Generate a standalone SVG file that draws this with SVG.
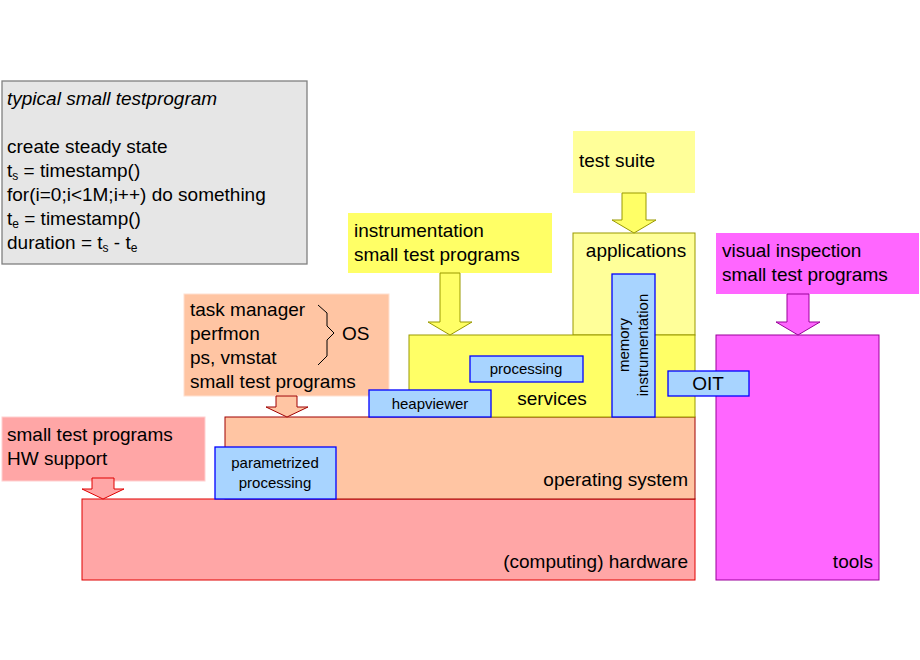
<svg xmlns="http://www.w3.org/2000/svg" width="920" height="660" viewBox="0 0 920 660">
<style>
text{font-family:"Liberation Sans",Arial,sans-serif;font-size:19px;fill:#000}
.s{font-size:15px}
.blue{fill:#a8d4ff;stroke:#0000ff;stroke-width:1.3}
</style>
<rect width="920" height="660" fill="#fff"/>
<g id="note">
<rect x="2" y="81" width="305" height="183" fill="#e6e6e6" stroke="#808080" stroke-width="1.3"/>
<text x="7" y="105" font-style="italic">typical small testprogram</text>
<text x="7" y="153">create steady state</text>
<text x="7" y="177">t<tspan font-size="12" dy="3">s</tspan><tspan dy="-3"> = timestamp()</tspan></text>
<text x="7" y="201">for(i=0;i&lt;1M;i++) do something</text>
<text x="7" y="225">t<tspan font-size="12" dy="3">e</tspan><tspan dy="-3"> = timestamp()</tspan></text>
<text x="7" y="249">duration = t<tspan font-size="12" dy="3">s</tspan><tspan dy="-3"> - t</tspan><tspan font-size="12" dy="3">e</tspan></text>
</g>
<g id="hardware">
<rect x="82" y="499" width="613" height="81" fill="#ffa6a6" stroke="#e00000" stroke-width="1"/>
<text x="688" y="568" text-anchor="end">(computing) hardware</text>
</g>
<g id="os">
<rect x="225" y="417" width="470" height="82" fill="#ffc5a3" stroke="#a00000" stroke-width="1"/>
<text x="688" y="486" text-anchor="end">operating system</text>
</g>
<g id="applications">
<rect x="573" y="233" width="122" height="102" fill="#ffff99" stroke="#999900" stroke-width="1"/>
<text x="636" y="257" text-anchor="middle">applications</text>
</g>
<g id="services">
<rect x="409" y="335" width="286" height="82" fill="#ffff66" stroke="#999900" stroke-width="1"/>
<text x="552" y="405" text-anchor="middle">services</text>
</g>
<g id="tools">
<rect x="716" y="335" width="163" height="245" fill="#ff66ff" stroke="#990099" stroke-width="1"/>
<text x="873" y="568" text-anchor="end">tools</text>
</g>
<g id="testsuite">
<rect x="573" y="131" width="122" height="62" fill="#ffff99"/>
<text x="579" y="167">test suite</text>
</g>
<g id="instrumentation">
<rect x="348" y="213" width="204" height="60" fill="#ffff66"/>
<text x="354" y="237">instrumentation</text>
<text x="354" y="261">small test programs</text>
</g>
<g id="visual">
<rect x="716" y="233" width="203" height="61" fill="#ff66ff"/>
<text x="722" y="257">visual inspection</text>
<text x="722" y="281">small test programs</text>
</g>
<g id="ostools">
<rect x="184" y="294" width="205" height="102" fill="#ffc5a3" stroke="#ffe0d0" stroke-width="1"/>
<text x="190" y="316">task manager</text>
<text x="190" y="340">perfmon</text>
<text x="190" y="364">ps, vmstat</text>
<text x="190" y="388">small test programs</text>
<path d="M318,305 L327,313 L327,326 L334,333 L327,340 L327,356 L318,365" fill="none" stroke="#000" stroke-width="1"/>
<text x="342" y="340">OS</text>
</g>
<g id="hwtools">
<rect x="2" y="417" width="203" height="64" fill="#ffa6a6" stroke="#ffd0d0" stroke-width="1"/>
<text x="7" y="441">small test programs</text>
<text x="7" y="465">HW support</text>
</g>
<g id="processing"><rect class="blue" x="470" y="356" width="113" height="26"/><text class="s" x="526" y="374" text-anchor="middle">processing</text></g>
<g id="heapviewer"><rect class="blue" x="369" y="390" width="122" height="27"/><text class="s" x="430" y="409" text-anchor="middle">heapviewer</text></g>
<g id="parametrized"><rect class="blue" x="215" y="447" width="121" height="52"/><text class="s" x="275" y="468" text-anchor="middle">parametrized</text><text class="s" x="275" y="488" text-anchor="middle">processing</text></g>
<g id="meminstr"><rect class="blue" x="612" y="274" width="43" height="143"/><text class="s" transform="translate(629,345) rotate(-90)" text-anchor="middle">memory</text><text class="s" transform="translate(648,345) rotate(-90)" text-anchor="middle">instrumentation</text></g>
<g id="oit"><rect class="blue" x="668" y="371" width="81" height="25"/><text x="708" y="390" text-anchor="middle">OIT</text></g>
<g id="connectors">
<path d="M622,193 H646 V220 H656 L634,233 L612,220 H622 Z" fill="#ffff66" stroke="#999900"/>
<path d="M440,273 H460 V322 H472 L450,335 L428,322 H440 Z" fill="#ffff66" stroke="#999900"/>
<path d="M787,294 H809 V322 H820 L798,335 L776,322 H787 Z" fill="#ff66ff" stroke="#990099"/>
<path d="M276,396 H297 V407 H308 L287,417 L266,407 H276 Z" fill="#ffc5a3" stroke="#a00000"/>
<path d="M92,478 H114 V489 H124 L103,499 L82,489 H92 Z" fill="#ffa6a6" stroke="#e00000"/>
</g>
</svg>
